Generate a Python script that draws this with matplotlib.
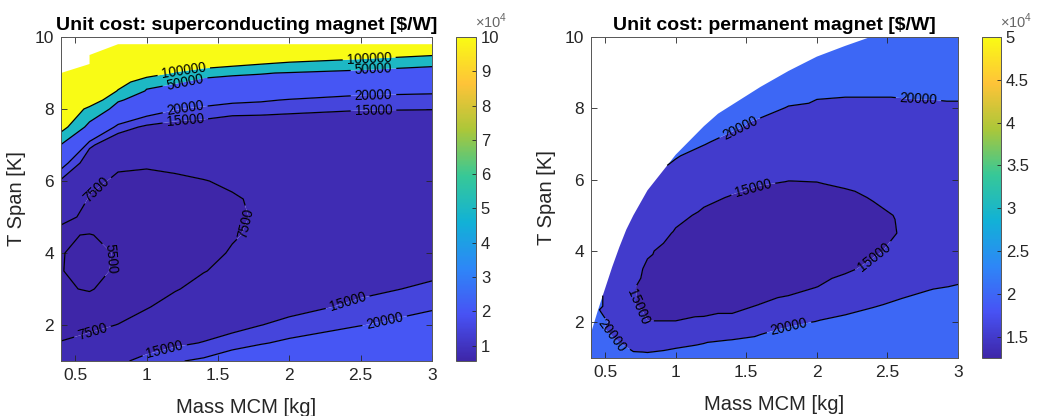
import numpy as np
import matplotlib
matplotlib.use("Agg")
import matplotlib.pyplot as plt
from matplotlib.colors import LinearSegmentedColormap, Normalize
from matplotlib.cm import ScalarMappable
from matplotlib.tri import Triangulation

plt.rcParams['font.family'] = ['Liberation Sans', 'DejaVu Sans']
plt.rcParams['mathtext.fontset'] = 'custom'
plt.rcParams['mathtext.rm'] = 'Liberation Sans'
nan = np.nan

# ---------------- data: superconducting magnet ----------------
mass_sc = [0.4, 0.6, 0.8, 1.0, 1.2, 1.4, 1.6, 1.8, 2.0, 2.5, 3.0]
tspan_sc = [1, 1.5, 2, 2.5, 3, 3.5, 4, 4.5, 5, 5.5, 6, 6.5, 7, 7.5, 8, 8.25, 8.5, 8.75, 9, 9.25, 9.5, 9.8]
# one row per mass value, entries along tspan_sc (nan = no solution)
cost_sc = [
    [9500, 7600, 6700, 6100, 5650, 5550, 5580, 5600, 9000, 11500, 14200, 23000, 48000, 120000, 160000, 180000, 200000, 220000, 240000, nan, nan, nan],
    [10500, 8200, 7000, 6100, 5400, 5050, 5000, 5450, 6300, 7200, 8300, 11000, 16000, 36000, 85000, 140000, 200000, 230000, 250000, 270000, 290000, nan],
    [14000, 9500, 7550, 6600, 6000, 5700, 5650, 5800, 6100, 6400, 7000, 8000, 10500, 17500, 35000, 54000, 95000, 130000, 170000, 200000, 230000, 260000],
    [16500, 12500, 9000, 7300, 6500, 6100, 5900, 5900, 6050, 6400, 6900, 7800, 10000, 14000, 24000, 34000, 47000, 62000, 135000, 170000, 200000, 230000],
    [19500, 13800, 10800, 8700, 7300, 6600, 6200, 6050, 6100, 6400, 7000, 8200, 9800, 12500, 20500, 28000, 38000, 53000, 96000, 140000, 180000, 210000],
    [21000, 15300, 11800, 9800, 8400, 7400, 6800, 6500, 6450, 6700, 7400, 8600, 10300, 12800, 18000, 25000, 33000, 44000, 58000, 140000, 170000, 200000],
    [24000, 17500, 13000, 10600, 9100, 8200, 7700, 7300, 7100, 7250, 7900, 9000, 10700, 12500, 16500, 22000, 29000, 39000, 55000, 115000, 160000, 190000],
    [26000, 19500, 14900, 12000, 10200, 9100, 8400, 7950, 7800, 7900, 8400, 9400, 10900, 12700, 16200, 21000, 27500, 37000, 52000, 101000, 150000, 180000],
    [28000, 21200, 16500, 13200, 11200, 10000, 9200, 8700, 8500, 8550, 8900, 9800, 11100, 12800, 15800, 19500, 26000, 35000, 48000, 90000, 140000, 170000],
    [30000, 24500, 19800, 16200, 13800, 12200, 11000, 10200, 9700, 9500, 9600, 10100, 11200, 12800, 15200, 17800, 22000, 30000, 43000, 65000, 130000, 160000],
    [33000, 27500, 22800, 19300, 15900, 13900, 12400, 11300, 10600, 10200, 10100, 10400, 11200, 12600, 15100, 17800, 21000, 27000, 38000, 55000, 103000, 150000],
]
levels_sc = [5500, 7500, 15000, 20000, 50000, 100000]
clim_sc = (5500, 100000)
cbar_ticks_sc = [10000, 20000, 30000, 40000, 50000, 60000, 70000, 80000, 90000, 100000]
cbar_labels_sc = ['1', '2', '3', '4', '5', '6', '7', '8', '9', '10']

# ---------------- data: permanent magnet ----------------
mass_pm = [0.4, 0.5, 0.6, 0.7, 0.8, 1.0, 1.2, 1.4, 1.6, 1.8, 2.0, 2.2, 2.4, 2.6, 2.8, 3.0]
tspan_pm = [1, 1.5, 2, 2.5, 3, 3.5, 4, 4.5, 5, 5.5, 6, 6.5, 7, 7.5, 8, 8.5, 9, 9.5, 10]
cost_pm = [
    [24500, 22500] + [nan] * 17,
    [23500, 21500, 20400, 19900] + [nan] * 15,
    [22000, 19700, 18300, 17600, 17700, 18600, 19600] + [nan] * 12,
    [20900, 18400, 16300, 15150, 15200, 16000, 17300, 18800] + [nan] * 11,
    [20800, 18200, 15100, 14300, 14100, 14500, 15400, 16700, 18000, 19300] + [nan] * 9,
    [21300, 18900, 15100, 13900, 13400, 13300, 13700, 14700, 15700, 17000, 18300, 19800] + [nan] * 7,
    [22200, 19500, 15500, 14000, 13200, 12900, 13000, 13600, 14500, 15600, 17000, 18500, 20100] + [nan] * 6,
    [23500, 20100, 16000, 14000, 13000, 12600, 12600, 13000, 13800, 14800, 16000, 17400, 18900, 20500, 21800] + [nan] * 4,
    [24500, 21000, 17800, 15050, 13400, 12700, 12500, 12700, 13300, 14200, 15400, 16800, 18200, 19400, 20700, 22000] + [nan] * 3,
    [25500, 22000, 19300, 16000, 14000, 13000, 12500, 12400, 12800, 13700, 15100, 16500, 17800, 18900, 19850, 21000] + [nan] * 3,
    [26500, 23000, 20200, 17400, 14950, 13500, 12800, 12500, 12700, 13700, 15200, 16600, 17800, 18800, 19600, 20400, 21500] + [nan] * 2,
    [27500, 24000, 21000, 18600, 16300, 14500, 13400, 13000, 13300, 14300, 15700, 16900, 17900, 18800, 19500, 20300, 21500, 23000] + [nan],
    [28500, 25000, 22000, 19600, 17400, 15700, 14600, 14000, 14300, 15200, 16300, 17300, 18200, 18900, 19500, 20300, 21400, 22800, 24500],
    [29500, 26000, 23000, 20700, 18600, 16900, 15800, 15200, 15300, 15900, 16900, 17800, 18500, 19100, 19600, 20300, 21300, 22700, 24300],
    [30500, 27000, 24000, 21700, 19600, 17900, 16900, 16300, 16200, 16600, 17400, 18200, 18800, 19300, 19700, 20300, 21200, 22500, 24000],
    [31500, 28000, 25000, 22600, 20200, 18600, 17700, 17100, 16900, 17200, 17900, 18600, 19100, 19500, 19800, 20300, 21100, 22400, 23800],
]
# edge of the solution domain (feasibility limit)
edge_mass_pm = [0.40, 0.45, 0.50, 0.55, 0.60, 0.65, 0.70, 0.75, 0.80, 0.90, 1.00, 1.10, 1.20, 1.30, 1.40, 1.50, 1.60, 1.80, 2.00, 2.20, 2.38]
edge_tspan_pm = [1.70, 2.35, 2.95, 3.55, 4.10, 4.60, 5.00, 5.35, 5.70, 6.20, 6.70, 7.10, 7.50, 7.85, 8.10, 8.35, 8.60, 9.05, 9.45, 9.75, 10.0]
edge_cost_pm = [21500, 20200, 19900, 19800, 19800, 19800, 19800, 19800, 19800, 19800, 20300, 21000, 21200, 21500, 21800, 22000, 22300, 22800, 23200, 23600, 24000]
levels_pm = [15000, 20000]
clim_pm = (12500, 50000)
cbar_ticks_pm = [15000, 20000, 25000, 30000, 35000, 40000, 45000, 50000]
cbar_labels_pm = ['1.5', '2', '2.5', '3', '3.5', '4', '4.5', '5']

# parula-like colormap (MATLAB)
parula_anchors = [
    (0.2422, 0.1504, 0.6603), (0.2810, 0.3228, 0.9579), (0.1786, 0.5289, 0.9682),
    (0.0689, 0.6948, 0.8394), (0.2161, 0.7843, 0.5923), (0.6720, 0.7793, 0.2227),
    (0.9970, 0.7659, 0.2199), (0.9769, 0.9839, 0.0805),
]
parula = LinearSegmentedColormap.from_list('parula', parula_anchors, N=256)

TXT = '#262626'

fig = plt.figure(figsize=(10.46, 4.16), dpi=100)
ax1 = fig.add_axes([61 / 1046, 55 / 416, 371 / 1046, 324 / 416])
cax1 = fig.add_axes([456 / 1046, 55 / 416, 20 / 1046, 324 / 416])
ax2 = fig.add_axes([591 / 1046, 58 / 416, 367 / 1046, 321 / 416])
cax2 = fig.add_axes([982 / 1046, 58 / 416, 19 / 1046, 321 / 416])


def draw(ax, cax, mass, tspan, cost, edge, levels, clim, cticks, clabels, title, label_pos):
    X, Y = np.meshgrid(mass, tspan)
    Z = np.array(cost, dtype=float).T
    norm = Normalize(*clim)
    fills = [parula(norm(clim[0]))] + [parula(norm(l)) for l in levels]
    if edge is None:
        Zm = np.ma.masked_invalid(Z)
        bounds = [np.nanmin(Z) - 1] + list(levels) + [np.nanmax(Z) + 1]
        ax.contourf(X, Y, Zm, levels=bounds, colors=fills, corner_mask=True, antialiased=True)
        cs = ax.contour(X, Y, Zm, levels=levels, colors='k', linewidths=0.9, corner_mask=True)
    else:
        ok = ~np.isnan(Z)
        x = np.concatenate([X[ok], edge[0]])
        y = np.concatenate([Y[ok], edge[1]])
        z = np.concatenate([Z[ok], edge[2]])
        tri = Triangulation(x, y)
        bounds = [z.min() - 1] + list(levels) + [z.max() + 1]
        ax.tricontourf(tri, z, levels=bounds, colors=fills, antialiased=True)
        cs = ax.tricontour(tri, z, levels=levels, colors='k', linewidths=0.9)
    ax.clabel(cs, fmt='%d', fontsize=9.8, manual=label_pos, inline=True, inline_spacing=4)
    ax.set_xlim(0.4, 3)
    ax.set_ylim(1, 10)
    ax.set_xticks([0.5, 1, 1.5, 2, 2.5, 3])
    ax.set_xticklabels(['0.5', '1', '1.5', '2', '2.5', '3'])
    ax.set_yticks([2, 4, 6, 8, 10])
    ax.tick_params(direction='in', top=True, right=True, length=4, width=0.6,
                   colors=TXT, labelsize=12.5, pad=5)
    for s in ax.spines.values():
        s.set_color('#555555')
        s.set_linewidth(0.7)
    ax.set_xlabel('Mass MCM [kg]', fontsize=14.5, color=TXT, labelpad=11)
    ax.set_ylabel('T Span [K]', fontsize=14.5, color=TXT, labelpad=6)
    ax.set_title(title, fontsize=14, fontweight='bold', color='k', pad=5)

    sm = ScalarMappable(norm=norm, cmap=parula)
    cb = fig.colorbar(sm, cax=cax)
    cb.set_ticks(cticks)
    cb.set_ticklabels(clabels)
    cb.ax.tick_params(direction='in', length=3, width=0.6, colors=TXT, labelsize=12)
    cb.outline.set_edgecolor('#555555')
    cb.outline.set_linewidth(0.7)
    cax.text(0.95, 1.02, r'$\times10^{4}$', transform=cax.transAxes, fontsize=10.5,
             color='#666666', ha='left', va='bottom')


draw(ax1, cax1, mass_sc, tspan_sc, cost_sc, None,
     levels_sc, clim_sc, cbar_ticks_sc, cbar_labels_sc,
     r'Unit cost: superconducting magnet [\$/W]',
     [(1.26, 9.05), (2.56, 9.39), (1.27, 8.74), (2.59, 9.1), (1.27, 8.0), (2.59, 8.39),
      (2.67, 2.09), (1.27, 7.73), (2.59, 7.97), (2.41, 2.62), (1.13, 1.25),
      (0.64, 5.8), (1.67, 4.87), (0.62, 1.81), (0.72, 3.85)])
draw(ax2, cax2, mass_pm, tspan_pm, cost_pm, (edge_mass_pm, edge_tspan_pm, edge_cost_pm),
     levels_pm, clim_pm, cbar_ticks_pm, cbar_labels_pm,
     r'Unit cost: permanent magnet [\$/W]',
     [(1.46, 7.42), (2.72, 8.26), (1.80, 1.91), (0.55, 1.63),
      (1.55, 5.74), (2.40, 3.87), (0.72, 2.37)])

fig.savefig('out.png', dpi=100)
